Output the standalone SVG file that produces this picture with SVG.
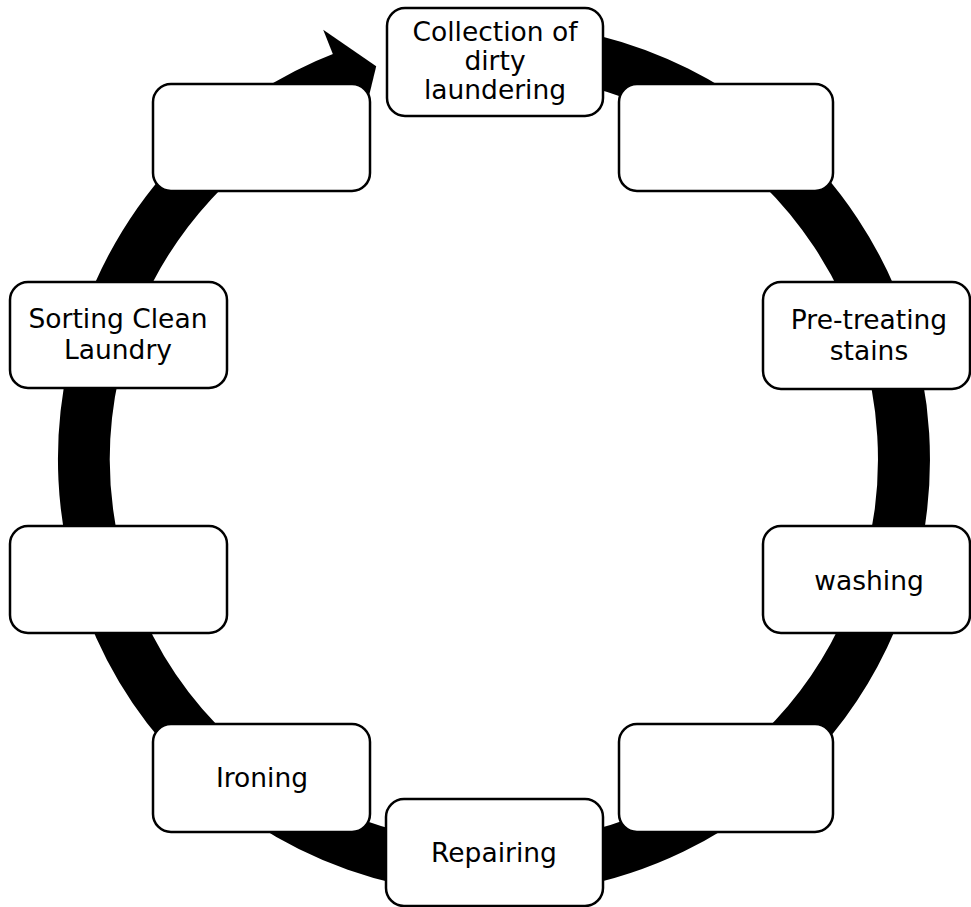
<svg xmlns="http://www.w3.org/2000/svg" width="971" height="907" viewBox="0 0 971 907">
<style>
.box{fill:#fff;stroke:#000;stroke-width:2.5}
.t{font-family:"DejaVu Sans","Verdana",sans-serif;font-size:26.5px;fill:#000;text-anchor:middle}
</style>
<rect width="971" height="907" fill="#fff"/>
<g id="connectors">
<path d="M494,49 A410,410 0 1 1 347.1,76.2" fill="none" stroke="#000" stroke-width="52"/>
<polygon points="323.2,29.8 376.2,66.3 361.6,126.4"/>
</g>
<g id="n1"><rect class="box" x="387" y="8" width="216" height="108" rx="18"/>
<text class="t" x="495" y="41">Collection of</text><text class="t" x="495" y="70">dirty</text><text class="t" x="495" y="99">laundering</text></g>
<g id="n2"><rect class="box" x="619" y="84" width="214" height="107" rx="18"/></g>
<g id="n3"><rect class="box" x="763" y="282" width="207" height="107" rx="18"/>
<text class="t" x="869" y="329">Pre-treating</text><text class="t" x="869" y="360">stains</text></g>
<g id="n4"><rect class="box" x="763" y="526" width="207" height="107" rx="18"/>
<text class="t" x="869" y="590">washing</text></g>
<g id="n5"><rect class="box" x="619" y="724" width="214" height="108" rx="18"/></g>
<g id="n6"><rect class="box" x="386" y="799" width="217" height="107" rx="18"/>
<text class="t" x="494" y="862">Repairing</text></g>
<g id="n7"><rect class="box" x="153" y="724" width="217" height="108" rx="18"/>
<text class="t" x="262" y="787">Ironing</text></g>
<g id="n8"><rect class="box" x="10" y="526" width="217" height="107" rx="18"/></g>
<g id="n9"><rect class="box" x="10" y="282" width="217" height="106" rx="18"/>
<text class="t" x="118" y="328">Sorting Clean</text><text class="t" x="118" y="359">Laundry</text></g>
<g id="n10"><rect class="box" x="153" y="84" width="217" height="107" rx="18"/></g>
</svg>
